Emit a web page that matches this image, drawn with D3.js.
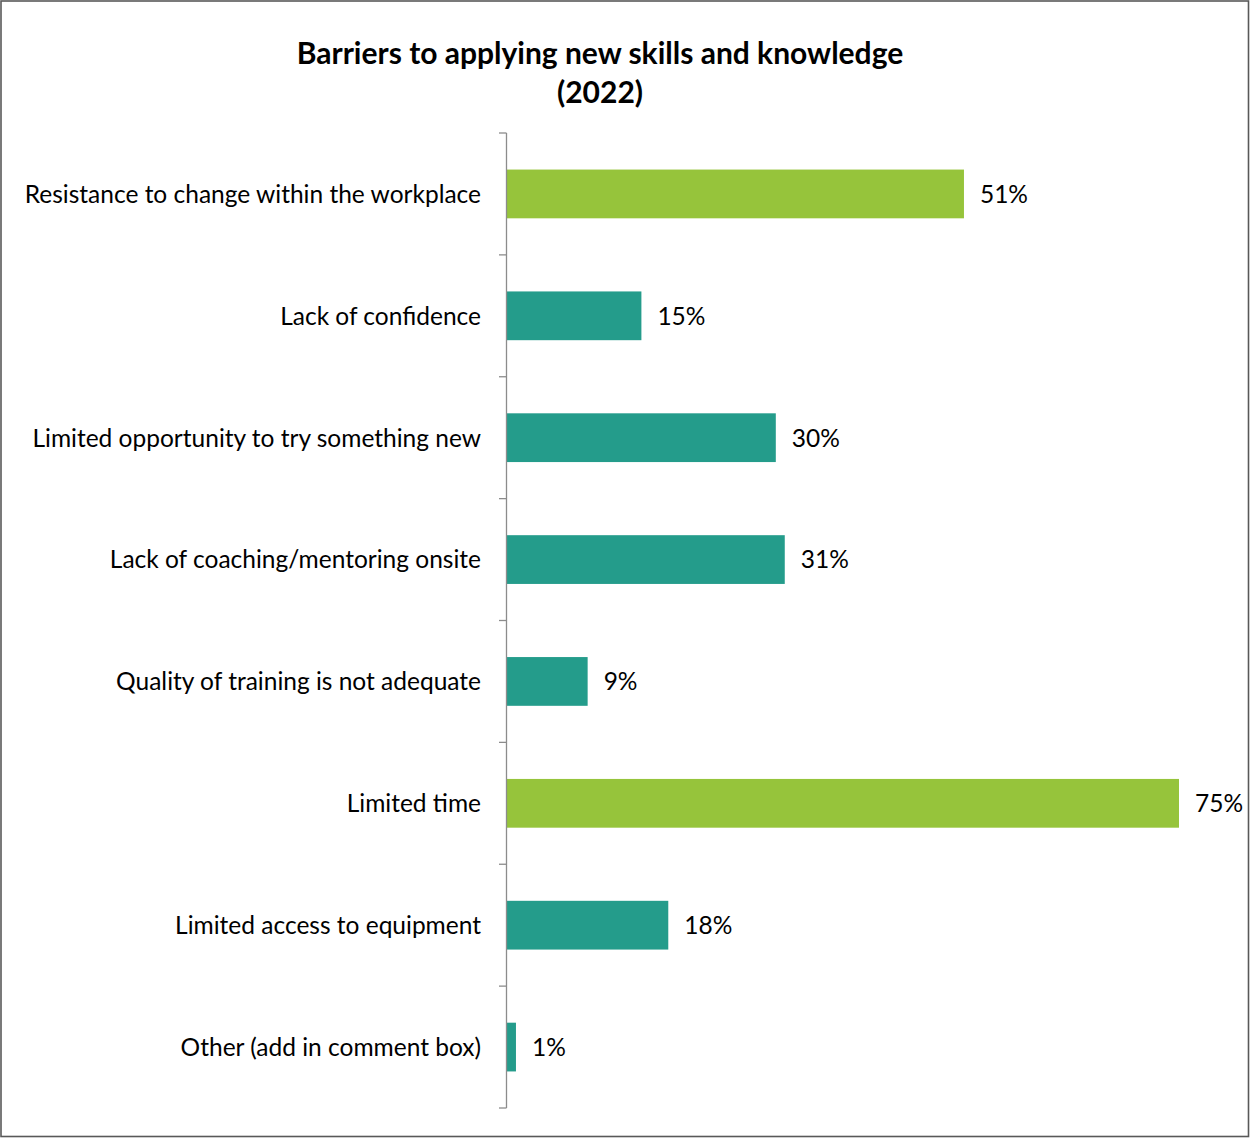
<!DOCTYPE html>
<html>
<head>
<meta charset="utf-8">
<script src="https://cdn.jsdelivr.net/npm/d3@7"></script>
<style>
  html, body { margin: 0; padding: 0; background: #ffffff; }
  svg { display: block; }
  text { font-family: "Lato", "Liberation Sans", sans-serif; fill: #000000; }
</style>
</head>
<body>
<svg id="chart" width="1250" height="1138"></svg>
<script>
// Survey answers, percent of respondents
const categories = [
  "Resistance to change within the workplace",
  "Lack of confidence",
  "Limited opportunity to try something new",
  "Lack of coaching/mentoring onsite",
  "Quality of training is not adequate",
  "Limited time",
  "Limited access to equipment",
  "Other (add in comment box)"
];
const values = [51, 15, 30, 31, 9, 75, 18, 1];
// The two most common barriers are highlighted
const highlighted = [true, false, false, false, false, true, false, false];
const titleLines = ["Barriers to applying new skills and knowledge", "(2022)"];

const svg = d3.select("#chart");
const W = 1250, H = 1138;

// Outer frame
svg.append("rect")
  .attr("x", 1).attr("y", 1)
  .attr("width", W - 2.5).attr("height", H - 2.5)
  .attr("fill", "#ffffff")
  .attr("stroke", "#595959")
  .attr("stroke-width", 1.6);

const plot = { left: 507, top: 133, bottom: 1108 };

const y = d3.scaleBand()
  .domain(categories)
  .range([plot.top, plot.bottom])
  .paddingInner(0.6)
  .paddingOuter(0.3);

const x = d3.scaleLinear()
  .domain([0, 75])
  .range([plot.left, 1179]);

// Title
svg.append("text")
  .attr("x", 600)
  .attr("y", 64)
  .attr("text-anchor", "middle")
  .style("font-weight", "bold")
  .style("font-size", "30px")
  .selectAll("tspan")
  .data(titleLines)
  .join("tspan")
  .attr("x", 600)
  .attr("dy", (d, i) => i === 0 ? 0 : 39)
  .text(d => d);

// Bars
svg.append("g")
  .selectAll("rect")
  .data(categories)
  .join("rect")
  .attr("x", x(0))
  .attr("y", d => y(d))
  .attr("width", (d, i) => x(values[i]) - x(0))
  .attr("height", y.bandwidth())
  .attr("fill", (d, i) => highlighted[i] ? "#96C43B" : "#249C8B");

// Value labels
svg.append("g")
  .selectAll("text")
  .data(categories)
  .join("text")
  .attr("x", (d, i) => x(values[i]) + 16)
  .attr("y", d => y(d) + y.bandwidth() / 2)
  .attr("dy", "0.36em")
  .style("font-size", "24.5px")
  .text((d, i) => values[i] + "%");

// Category axis with ticks between bands
const ticks = d3.range(categories.length + 1).map(i => plot.top + i * (plot.bottom - plot.top) / categories.length);
const axis = svg.append("g").attr("stroke", "#8c8c8c").attr("stroke-width", 1.3);
axis.append("line")
  .attr("x1", plot.left - 0.5).attr("x2", plot.left - 0.5)
  .attr("y1", plot.top).attr("y2", plot.bottom);
axis.selectAll("line.tick")
  .data(ticks)
  .join("line")
  .attr("class", "tick")
  .attr("x1", plot.left - 8).attr("x2", plot.left - 0.5)
  .attr("y1", d => d).attr("y2", d => d);

// Category labels
svg.append("g")
  .selectAll("text")
  .data(categories)
  .join("text")
  .attr("x", plot.left - 26)
  .attr("y", d => y(d) + y.bandwidth() / 2)
  .attr("dy", "0.36em")
  .attr("text-anchor", "end")
  .style("font-size", "24.5px")
  .text(d => d);
</script>
</body>
</html>
